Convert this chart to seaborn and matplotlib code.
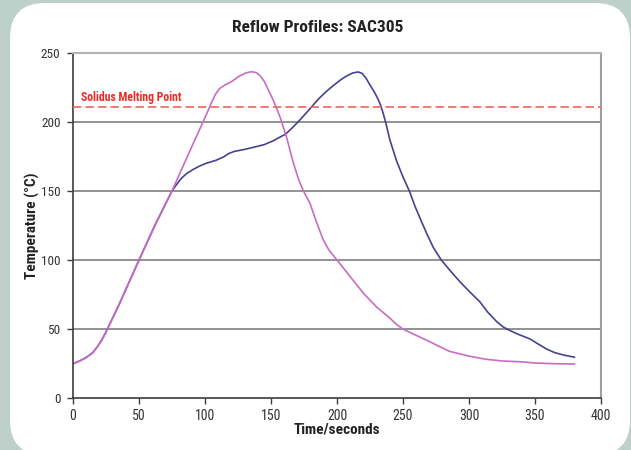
import numpy as np
import pandas as pd
import matplotlib
matplotlib.use('Agg')
import matplotlib.pyplot as plt
import seaborn as sns
from matplotlib.patches import FancyBboxPatch
from matplotlib.transforms import IdentityTransform
from matplotlib import font_manager

# --- Data ---
time_a = [0, 5, 10, 15, 19, 22, 25, 35, 50, 62, 75, 90, 100, 105, 108, 111, 115, 120,
          126, 131, 135, 139, 142, 145, 148, 152, 157, 162, 167, 171, 174.5, 179.5,
          184.6, 189.6, 194, 200, 210, 220, 230, 240, 245, 250, 260, 270, 285, 300,
          313, 325, 341, 350, 365, 380]
temp_a = [25, 27, 29.5, 33, 38, 42.5, 48, 68, 100, 125, 150, 182, 203, 214, 220, 224, 226.5, 229,
          233, 235.3, 236.2, 235.5, 233, 229, 223, 215, 203, 188, 170, 158, 150, 141,
          127, 114.5, 107, 100, 88, 76, 66, 58, 53.5, 50, 45.5, 41, 34, 30.5,
          28.2, 27, 26.3, 25.5, 25, 24.8]

time_b = [0, 5, 10, 15, 19, 22, 25, 35, 50, 62, 75, 78, 82, 86, 91, 96, 101, 108, 114,
          118, 122, 130, 137, 145, 152, 157, 161, 166, 172, 181, 186, 192, 197, 203,
          208, 212, 216, 219, 222, 225, 228, 231, 233, 235, 237, 240, 245, 250, 255, 259, 263,
          268, 273, 279, 286, 293, 300, 308, 314, 321, 326, 331, 338, 346, 352, 359,
          365, 372, 380]
temp_b = [25, 27, 29.5, 33, 38, 42.5, 48, 68, 100, 125, 150, 154, 159, 162.5, 165.5, 168, 170,
          172, 174.5, 177, 178.5, 180, 181.6, 183.5, 186.4, 189, 191, 195.5, 201.4, 211,
          216.5, 222, 226, 230.5, 233.5, 235.3, 236, 235, 231.5, 226.5, 222, 216.5, 212, 206,
          199, 187, 172, 160, 149.5, 139, 130, 119, 109, 100, 92, 84.4, 77.5, 70, 62.5, 55.4,
          51.5, 49, 46, 43, 39.5, 35.5, 33, 31.2, 29.7]

solidus = 211
x_ticks = list(range(0, 401, 50))
y_ticks = list(range(0, 251, 50))

df = pd.concat([
    pd.DataFrame({'time': time_a, 'temp': temp_a, 'profile': 'A'}),
    pd.DataFrame({'time': time_b, 'temp': temp_b, 'profile': 'B'}),
])

# --- Style ---
sns.set_style('white')
names = {f.name for f in font_manager.fontManager.ttflist}
narrow = next((n for n in ['Liberation Sans Narrow', 'Arial Narrow', 'Roboto Condensed']
               if n in names), None)
plt.rcParams['font.family'] = ([narrow] if narrow else []) + ['DejaVu Sans']
plt.rcParams['font.stretch'] = 'condensed'

fig = plt.figure(figsize=(6.31, 4.5), dpi=100)
fig.patch.set_facecolor('#BDD0CA')
panel = FancyBboxPatch((10, -5), 620, 452, boxstyle='round,pad=0,rounding_size=35',
                       transform=IdentityTransform(), facecolor='white', edgecolor='none',
                       zorder=-10)
fig.add_artist(panel)

ax = fig.add_axes([0.1157, 0.1149, 0.8368, 0.7682])
ax.set_zorder(1)
ax.set_facecolor('white')

# blue first so the pink profile sits on top where they overlap
sns.lineplot(data=df, x='time', y='temp', hue='profile', hue_order=['B', 'A'], sort=False,
             palette={'A': '#C86CC4', 'B': '#434391'}, linewidth=1.2,
             legend=False, ax=ax)

ax.axhline(solidus, color='#F0645A', linestyle=(0, (5, 2.5)), linewidth=1.2, zorder=3)
ax.text(6, solidus + 1.5, 'Solidus Melting Point', color='#EE2A24', fontsize=8.5,
        fontweight='bold', ha='left', va='bottom')

ax.set_xlim(0, 400)
ax.set_ylim(0, 250)
ax.set_xticks(x_ticks)
ax.set_yticks(y_ticks)
for y in y_ticks[1:-1]:
    ax.axhline(y, color='#7F7F7F', linewidth=1.2, zorder=0)

for side in ['left', 'bottom']:
    ax.spines[side].set_color('#3C3C3C')
    ax.spines[side].set_linewidth(1.2)
ax.spines['top'].set_color('#B4B4B4')
ax.spines['top'].set_linewidth(1.5)
ax.spines['right'].set_color('#A0A0A0')
ax.spines['right'].set_linewidth(1.5)

ax.tick_params(axis='both', direction='out', length=4, width=1, color='#3C3C3C',
               labelsize=10, labelcolor='#333333', bottom=True, left=True)
ax.tick_params(axis='y', labelsize=9.5, pad=5)

ax.set_xlabel('Time/seconds', fontsize=11, fontweight='bold', color='#222222', va='top')
ax.xaxis.set_label_coords(0.5, -0.071)
ax.set_ylabel('Temperature (°C)', fontsize=11, fontweight='bold', color='#222222')
ax.yaxis.set_label_coords(-0.062, 0.5)
fig.text(0.503, 0.938, 'Reflow Profiles: SAC305', ha='center', va='center',
         fontsize=12.5, fontweight='bold', color='#222222')

fig.savefig('out.png', dpi=100, facecolor=fig.get_facecolor())
